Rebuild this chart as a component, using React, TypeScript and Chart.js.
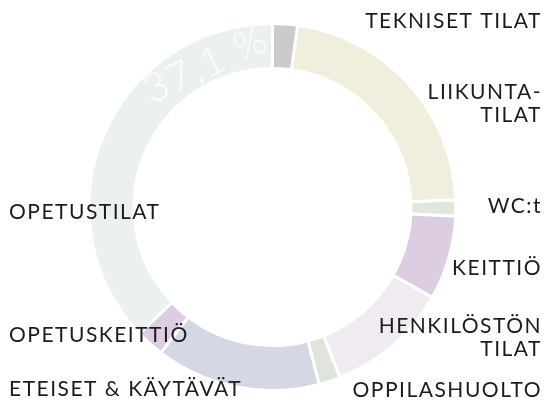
import React, { useEffect, useRef } from "react";
import { Chart, registerables } from "chart.js";

Chart.register(...registerables);

const categories = [
  "TEKNISET TILAT",
  "LIIKUNTATILAT",
  "WC:t",
  "KEITTIÖ",
  "HENKILÖSTÖN TILAT",
  "OPPILASHUOLTO",
  "ETEISET & KÄYTÄVÄT",
  "OPETUSKEITTIÖ",
  "OPETUSTILAT",
];
const labelLines = [
  ["TEKNISET TILAT"],
  ["LIIKUNTA-", "TILAT"],
  ["WC:t"],
  ["KEITTIÖ"],
  ["HENKILÖSTÖN", "TILAT"],
  ["OPPILASHUOLTO"],
  ["ETEISET & KÄYTÄVÄT"],
  ["OPETUSKEITTIÖ"],
  ["OPETUSTILAT"],
];
const shares = [2.2, 22.2, 1.4, 7.4, 10.8, 1.9, 14.5, 2.5, 37.1];
const colors = [
  "#cbcbcb",
  "#f1eedd",
  "#e0e5de",
  "#dccde2",
  "#f0eaf3",
  "#dfe4dc",
  "#d4d8e4",
  "#dccde2",
  "#ebf0f0",
];
const highlightIndex = 8;

// label placement: side and baseline of first line (layout only)
const labelPlacement = [
  { side: "right", y: 28 },
  { side: "right", y: 99 },
  { side: "right", y: 213 },
  { side: "right", y: 275 },
  { side: "right", y: 333 },
  { side: "right", y: 397 },
  { side: "left", y: 396 },
  { side: "left", y: 342 },
  { side: "left", y: 219 },
];

const FONT = "Lato, 'Open Sans', sans-serif";

const labelsPlugin = {
  id: "outerLabels",
  afterDraw(chart: any) {
    const ctx = chart.ctx;
    ctx.save();
    ctx.fillStyle = "#1c1c1c";
    ctx.font = `400 21px ${FONT}`;
    (ctx as any).letterSpacing = "1.5px";
    ctx.textBaseline = "alphabetic";
    labelLines.forEach((lines, i) => {
      const p = labelPlacement[i];
      lines.forEach((line, j) => {
        const y = p.y + j * 23;
        if (p.side === "right") {
          ctx.textAlign = "right";
          ctx.fillText(line, 542, y);
        } else {
          ctx.textAlign = "left";
          ctx.fillText(line, 9, y);
        }
      });
    });
    ctx.restore();
  },
  afterDatasetsDraw(chart: any) {
    const meta = chart.getDatasetMeta(0);
    const arc = meta.data[0];
    if (!arc) return;
    const cx = arc.x;
    const cy = arc.y;
    const rMid = (arc.innerRadius + arc.outerRadius) / 2 - 4;
    const ang = (-25 * Math.PI) / 180;
    const x = cx + rMid * Math.sin(ang);
    const y = cy - rMid * Math.cos(ang);
    const ctx = chart.ctx;
    ctx.save();
    ctx.translate(x, y);
    ctx.rotate(ang);
    ctx.font = `300 40px ${FONT}`;
    (ctx as any).letterSpacing = "2px";
    ctx.fillStyle = "rgba(255,255,255,0.85)";
    ctx.textAlign = "center";
    ctx.textBaseline = "middle";
    const txt = shares[highlightIndex].toFixed(1).replace(".", ",") + " %";
    ctx.fillText(txt, 0, 0);
    ctx.restore();
  },
};

export default function App() {
  const ref = useRef<HTMLCanvasElement>(null);
  useEffect(() => {
    if (!ref.current) return;
    const chart = new Chart(ref.current, {
      type: "doughnut",
      data: {
        labels: categories,
        datasets: [
          {
            data: shares,
            backgroundColor: colors,
            borderColor: "#ffffff",
            borderWidth: 3,
            hoverOffset: 0,
          },
        ],
      },
      options: {
        responsive: false,
        animation: false,
        cutout: "75.5%",
        layout: { padding: { top: 22, bottom: 11, left: 80, right: 80 } },
        plugins: {
          legend: { display: false },
          tooltip: { enabled: false },
        },
      },
      plugins: [labelsPlugin],
    });
    return () => chart.destroy();
  }, []);
  return (
    <div style={{ position: "absolute", left: 0, top: 0, width: 545, height: 403, background: "#fff" }}>
      <canvas ref={ref} width={545} height={403} />
    </div>
  );
}
